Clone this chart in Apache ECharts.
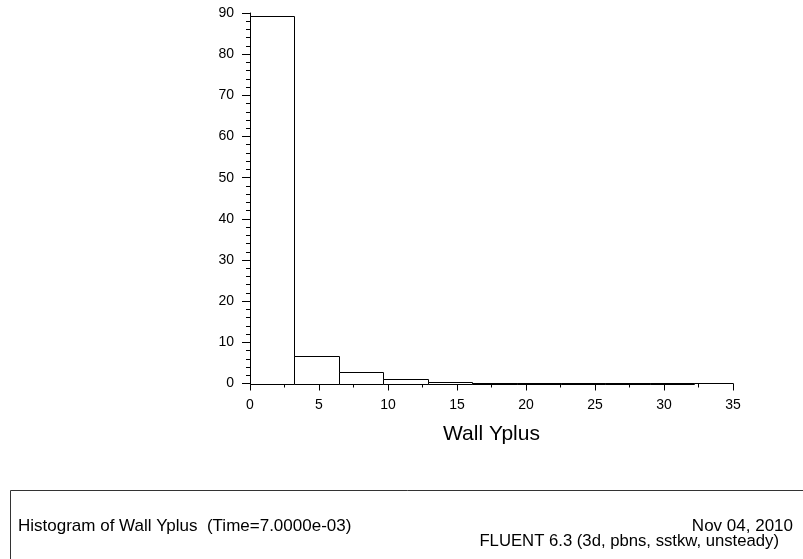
<!DOCTYPE html>
<html>
<head>
<meta charset="utf-8">
<script src="https://cdn.jsdelivr.net/npm/echarts@6/dist/echarts.min.js"></script>
<style>
html,body{margin:0;padding:0;background:#fff;}
#chart{width:803px;height:559px;}
</style>
</head>
<body>
<div id="chart"></div>
<script>
// Bin edges of the histogram (Wall Yplus)
var binEdges = [0, 3.22, 6.44, 9.66, 12.88, 16.1, 19.32, 22.54, 25.76, 28.98, 32.2];
// Percentage in each bin
var binValues = [89.3, 6.7, 2.7, 1.2, 0.45, 0.15, 0.08, 0.05, 0.04, 0.04];
var xTicks = [0, 5, 10, 15, 20, 25, 30, 35];
var yTicks = [0, 10, 20, 30, 40, 50, 60, 70, 80, 90];
var axisTitle = 'Wall Yplus';
var footerLeft = 'Histogram of Wall Yplus  (Time=7.0000e-03)';
var footerDate = 'Nov 04, 2010';
var footerSolver = 'FLUENT 6.3 (3d, pbns, sstkw, unsteady)';

var data = binValues.map(function (v, i) { return [binEdges[i], binEdges[i + 1], v]; });
var FONT = 'Liberation Sans, Arial, sans-serif';

var chart = echarts.init(document.getElementById('chart'), null, {renderer: 'canvas'});
chart.setOption({
  animation: false,
  backgroundColor: '#fff',
  grid: {left: 250, right: 70, top: 13, bottom: 559 - 383.5},
  xAxis: {
    type: 'value', min: xTicks[0], max: xTicks[xTicks.length - 1], interval: 5,
    name: axisTitle, nameLocation: 'middle', nameGap: 40,
    nameTextStyle: {fontFamily: FONT, fontSize: 21, color: '#000'},
    axisLine: {show: true, onZero: false, lineStyle: {color: '#000', width: 1}},
    axisTick: {show: true, inside: false, length: 7, lineStyle: {color: '#000'}},
    minorTick: {show: true, splitNumber: 2, length: 4, lineStyle: {color: '#000'}},
    splitLine: {show: false},
    axisLabel: {fontFamily: FONT, fontSize: 14, color: '#000', margin: 15}
  },
  yAxis: {
    type: 'value', min: yTicks[0], max: yTicks[yTicks.length - 1], interval: 10,
    axisLine: {show: true, lineStyle: {color: '#000', width: 1}},
    axisTick: {show: true, inside: false, length: 8, lineStyle: {color: '#000'}},
    minorTick: {show: true, splitNumber: 5, length: 4, lineStyle: {color: '#000'}},
    splitLine: {show: false},
    axisLabel: {fontFamily: FONT, fontSize: 14, color: '#000', margin: 16}
  },
  series: [{
    type: 'custom',
    data: data,
    encode: {x: [0, 1], y: 2},
    z: 3,
    renderItem: function (params, api) {
      var p0 = api.coord([api.value(0), api.value(2)]);
      var p1 = api.coord([api.value(1), 0]);
      var x0 = Math.round(p0[0]) + 0.5, x1 = Math.round(p1[0]) + 0.5;
      var y0 = Math.round(p0[1]) + 0.5, y1 = Math.round(p1[1]) + 0.5;
      return {
        type: 'rect',
        shape: {x: x0, y: y0, width: x1 - x0, height: y1 - y0},
        style: {fill: '#fff', stroke: '#000', lineWidth: 1}
      };
    }
  }],
  graphic: [
    {type: 'rect', shape: {x: 10.5, y: 490.5, width: 820, height: 100},
     style: {fill: 'none', stroke: '#333', lineWidth: 1}},
    {type: 'text', left: 18, top: 518,
     style: {text: footerLeft, fontFamily: FONT, fontSize: 17, fill: '#000'}},
    {type: 'text', right: 10, top: 518,
     style: {text: footerDate, fontFamily: FONT, fontSize: 17, fill: '#000', textAlign: 'right'}},
    {type: 'text', right: 24, top: 533,
     style: {text: footerSolver, fontFamily: FONT, fontSize: 16.7, fill: '#000', textAlign: 'right'}}
  ]
});
</script>
</body>
</html>
